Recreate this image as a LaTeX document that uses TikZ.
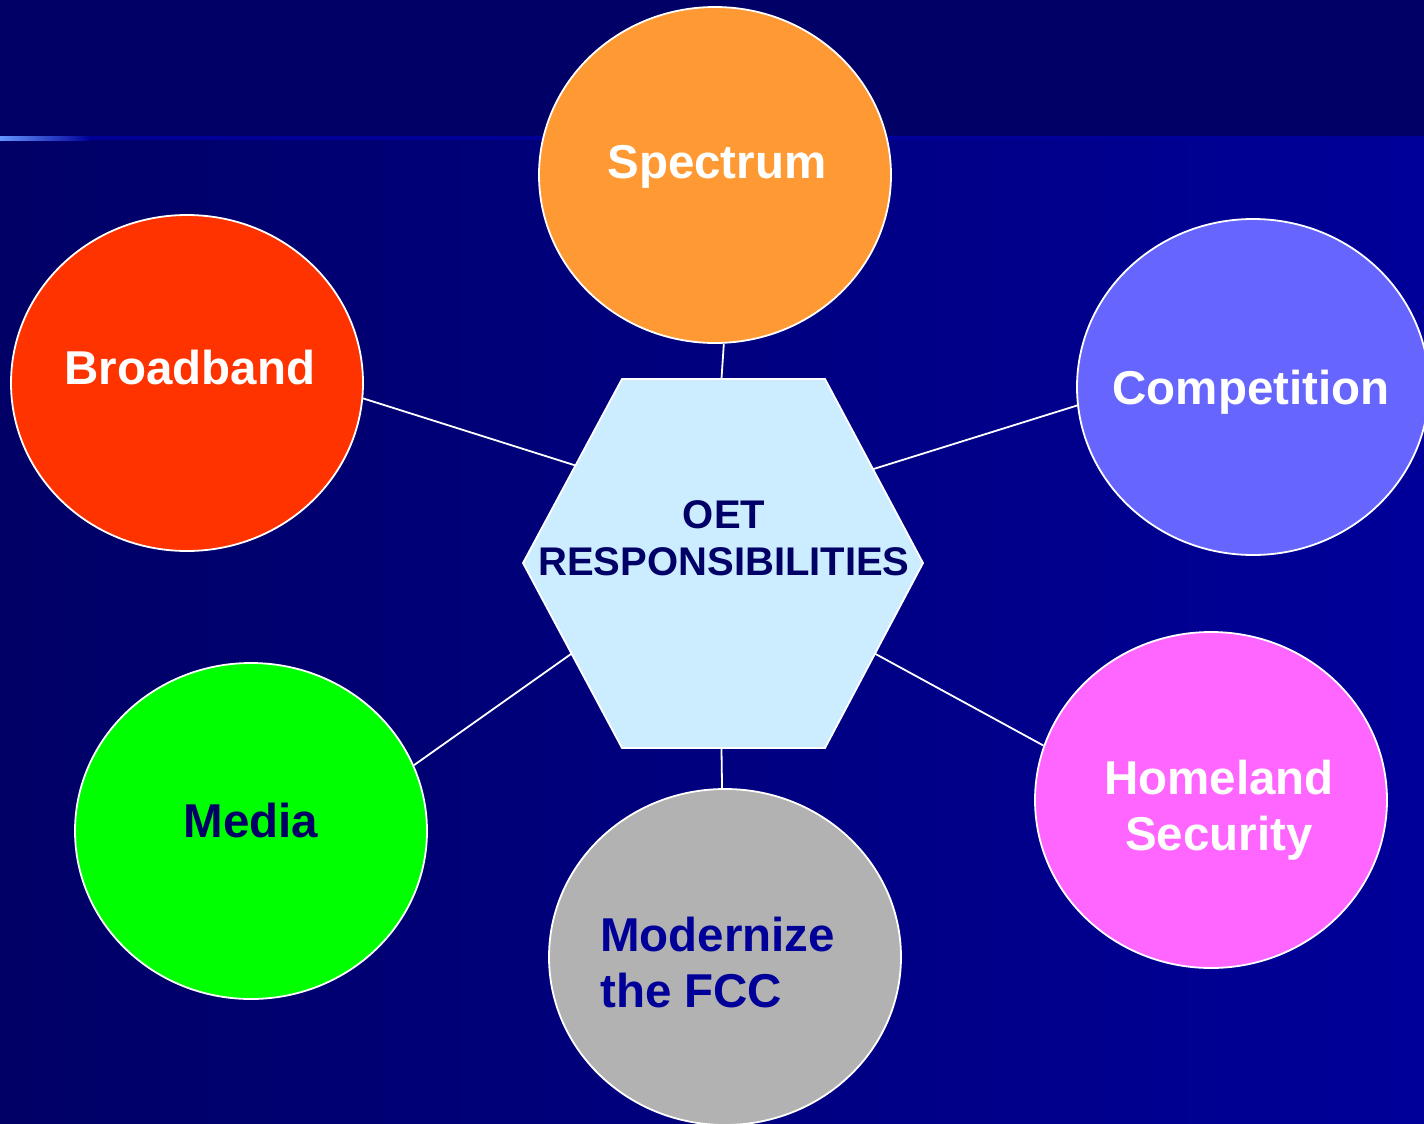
\documentclass[tikz,border=0pt]{standalone}
\usepackage{fontspec}
\setmainfont{Liberation Sans}
\usepackage{xcolor}
\definecolor{bgdark}{RGB}{0,0,102}
\definecolor{bgblue}{RGB}{0,0,153}
\definecolor{barlight}{RGB}{100,150,255}
\definecolor{spectrumorange}{RGB}{255,153,51}
\definecolor{broadbandred}{RGB}{255,51,0}
\definecolor{competitionblue}{RGB}{102,102,255}
\definecolor{homelandpink}{RGB}{255,102,255}
\definecolor{mediagreen}{RGB}{0,255,0}
\definecolor{fccgray}{RGB}{178,178,178}
\definecolor{hexblue}{RGB}{204,236,255}
\usetikzlibrary{calc}
\usetikzlibrary{shapes.geometric}
\newcommand{\bubblefont}{\fontsize{47.5}{56}\selectfont\bfseries}
\newcommand{\hexfont}{\fontsize{40}{47}\selectfont\bfseries}
\tikzset{
    bubble/.style={ellipse, draw=white, line width=1.8pt, minimum width=352pt, minimum height=336pt, inner sep=0pt},
    bubtext/.style={anchor=north, inner sep=0pt, font=\bubblefont, text=white, align=center},
    hexframe/.style={draw=white, line width=1.8pt, fill=hexblue},
    hexlabel/.style={anchor=north, inner sep=0pt, font=\hexfont, text=bgdark, align=center},
    link/.style={draw=white, line width=1.8pt}
}

\begin{document}
\begin{tikzpicture}[x=1pt, y=-1pt]
        \useasboundingbox (0,0) rectangle (1424,1124);
        \clip (0,0) rectangle (1424,1124);

        % background and title bar
        \fill[bgdark] (0,0) rectangle (1424,137);
        \shade[left color=bgdark, right color=bgblue] (0,137) rectangle (1424,1124);
        \shade[left color=barlight, right color=bgblue] (0,136) rectangle (90,140);
        \fill[bgblue] (90,136) rectangle (1424,140);

        \coordinate (hexNW) at (622,379);
        \coordinate (hexNE) at (825,379);
        \coordinate (hexE) at (923,563);
        \coordinate (hexSE) at (825,748);
        \coordinate (hexSW) at (622,748);
        \coordinate (hexW) at (523,563);
        \draw[hexframe] (hexNW) -- (hexNE) -- (hexE) -- (hexSE) -- (hexSW) -- (hexW) -- cycle;

        \path
            (715,175) node[bubble, fill=spectrumorange] (spectrum) {}
            (187,383) node[bubble, fill=broadbandred] (broadband) {}
            (1253,387) node[bubble, fill=competitionblue] (competition) {}
            (1211,800) node[bubble, fill=homelandpink] (homeland) {}
            (251,831) node[bubble, fill=mediagreen] (media) {}
            (725,957) node[bubble, fill=fccgray] (fcc) {};

        \draw[link]
          (spectrum.-87.6) -- ($(hexNW)!.49!(hexNE)$)
          (broadband.-5) -- ($(hexNW)!.47!(hexW)$)
          (competition.-174) -- ($(hexNE)!.49!(hexE)$)
          (homeland.162) -- ($(hexE)!.49!(hexSE)$)
          (media.22) -- ($(hexW)!.49!(hexSW)$)
          (fcc.91) -- ($(hexSW)!.49!(hexSE)$);

        \node[bubtext] (spectrum-text) at (717,145) {Spectrum};
        \node[bubtext] (broadband-text) at (190,350) {Broadband};
        \node[bubtext] (competition-text) at (1251,370) {Competition};
        \node[bubtext] (homeland-text) at (1219,760) {Homeland\\Security};
        \node[bubtext, text=bgdark] (media-text) at (251,803) {Media};
        \node[bubtext, anchor=north west, align=left, text=bgblue] (fcc-text) at (600,917) {Modernize\\the FCC};
        \node[hexlabel] (oet) at (724,500) {OET\\RESPONSIBILITIES};
\end{tikzpicture}
\end{document}
